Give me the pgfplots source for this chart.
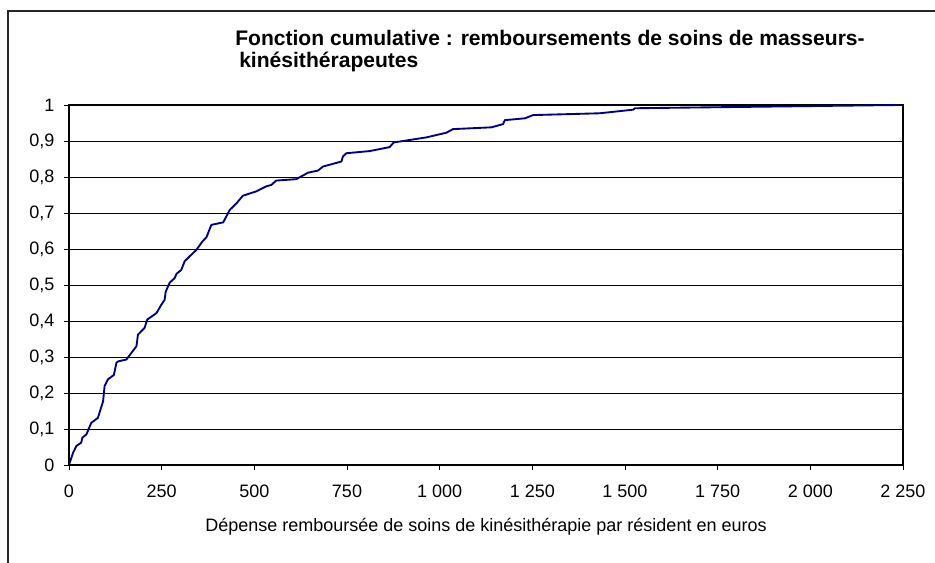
\documentclass[border=0pt]{standalone}
\usepackage{pgfplots}
\pgfplotsset{compat=1.18}
\usepackage{fontspec}
\setmainfont{Liberation Sans}
\definecolor{navy}{RGB}{0,0,128}
\pgfplotstableread{
x y
0 0.0
11 0.034
20 0.053
33 0.062
36 0.076
47 0.085
60 0.117
78 0.131
92 0.177
96 0.219
105 0.238
121 0.250
128 0.284
133 0.288
155 0.293
168 0.311
182 0.330
186 0.362
204 0.381
211 0.404
236 0.422
249 0.445
258 0.459
261 0.482
272 0.507
285 0.519
290 0.531
303 0.542
312 0.566
344 0.598
360 0.621
371 0.633
384 0.667
416 0.674
434 0.709
452 0.727
469 0.748
505 0.760
532 0.774
546 0.778
559 0.790
613 0.794
645 0.812
672 0.818
685 0.829
735 0.843
739 0.857
748 0.866
811 0.872
865 0.883
876 0.896
964 0.910
1018 0.923
1036 0.933
1140 0.938
1171 0.947
1176 0.958
1230 0.963
1252 0.972
1432 0.977
1522 0.987
1527 0.991
2240 1.0
}\cumdata
\begin{document}
\begin{tikzpicture}
\useasboundingbox (0,0) rectangle (701.25pt,-422.25pt);
\draw[line width=0.9pt, black!85] (6pt,-422.25pt) -- (6pt,-8.25pt) -- (701.25pt,-8.25pt);
\begin{axis}[
  at={(51.75pt,-348.75pt)}, anchor=south west,
  scale only axis, width=625.5pt, height=270pt,
  xmin=0, xmax=2250, ymin=0, ymax=1,
  xtick={0,250,500,750,1000,1250,1500,1750,2000,2250},
  ytick={0,0.1,0.2,0.3,0.4,0.5,0.6,0.7,0.8,0.9,1},
  ymajorgrids,
  major grid style={black, line width=0.6pt},
  axis line style={black, line width=1pt},
  tick style={black, line width=0.6pt},
  tick align=outside, major tick length=3.75pt,
  tick pos=left,
  /pgf/number format/assume math mode=true,
  /pgf/number format/use comma,
  /pgf/number format/1000 sep={\ },
  /pgf/number format/fixed,
  ticklabel style={font=\fontsize{13.5pt}{16pt}\selectfont},
  xticklabel style={yshift=-8pt},
  yticklabel style={xshift=-3.75pt},
]
\addplot[navy, line width=1.4pt, line join=round] table[x=x,y=y] {\cumdata};
\end{axis}
\node[anchor=base west, inner sep=0pt, font=\fontsize{15.8pt}{18pt}\selectfont\bfseries] at (176.25pt,-34.3pt) {Fonction cumulative : remboursements de soins de masseurs-};
\node[anchor=base west, inner sep=0pt, font=\fontsize{15.8pt}{18pt}\selectfont\bfseries] at (179.25pt,-50.8pt) {kinésithérapeutes};
\node[anchor=base, inner sep=0pt, font=\fontsize{13.5pt}{16pt}\selectfont] at (364.5pt,-398.25pt) {Dépense remboursée de soins de kinésithérapie par résident en euros};
\end{tikzpicture}
\end{document}
